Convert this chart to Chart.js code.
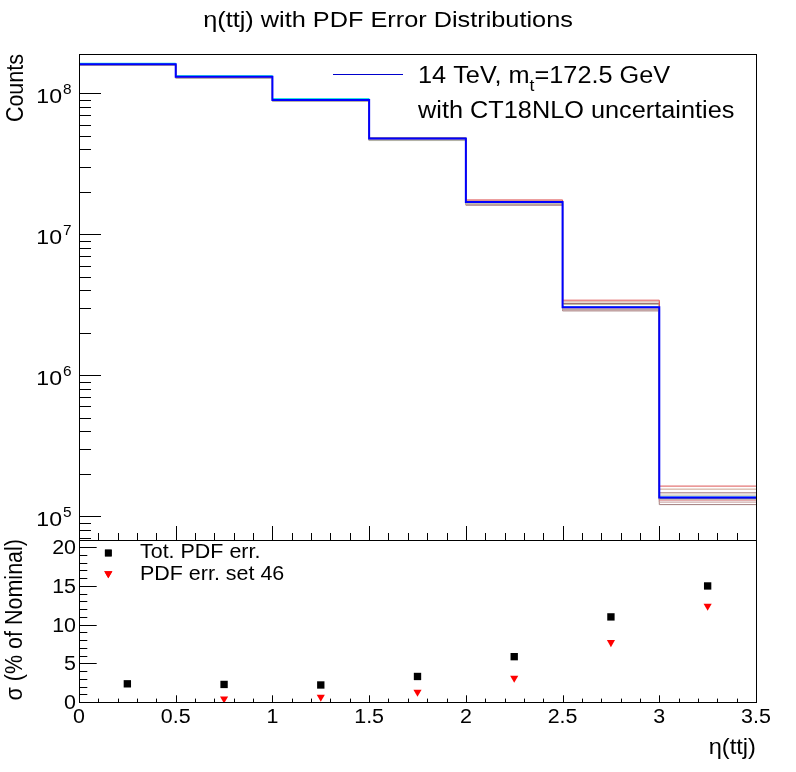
<!DOCTYPE html>
<html>
<head>
<meta charset="utf-8">
<title>eta(ttj) with PDF Error Distributions</title>
<script src="https://cdn.jsdelivr.net/npm/chart.js@4.4.1/dist/chart.umd.min.js"></script>
<style>
  html, body { margin: 0; padding: 0; background: #fff; }
  #wrap { position: relative; width: 796px; height: 772px; }
  #wrap canvas { position: absolute; left: 0; top: 0; }
</style>
</head>
<body>
<div id="wrap">
  <canvas id="histChart" width="796" height="772"></canvas>
  <canvas id="ratioChart" width="796" height="772"></canvas>
</div>
<script>
// ---- data ----
const binEdges = [0, 0.5, 1.0, 1.5, 2.0, 2.5, 3.0, 3.5];
const binCenters = [0.25, 0.75, 1.25, 1.75, 2.25, 2.75, 3.25];

// nominal eta(ttj) counts per bin
const nominalCounts = [1.606e8, 1.311e8, 8.97e7, 4.78e7, 1.692e7, 3.036e6, 1.353e5];

// a few of the PDF error set histograms (per bin)
const pdfSetRed    = [1.600e8, 1.305e8, 8.95e7, 4.82e7, 1.751e7, 3.404e6, 1.633e5];
const pdfSetTan    = [1.595e8, 1.300e8, 8.92e7, 4.79e7, 1.725e7, 3.311e6, 1.554e5];
const pdfSetMauve  = [1.592e8, 1.296e8, 8.90e7, 4.76e7, 1.705e7, 3.225e6, 1.463e5];
const pdfSetOlive  = [1.585e8, 1.288e8, 8.85e7, 4.66e7, 1.665e7, 3.173e6, 1.409e5];
const pdfSetCyan   = [1.633e8, 1.333e8, 9.16e7, 4.83e7, 1.700e7, 3.050e6, 1.365e5];
const pdfSetGray   = [1.576e8, 1.284e8, 8.82e7, 4.62e7, 1.645e7, 2.940e6, 1.320e5];
const pdfSetNavy   = [1.610e8, 1.314e8, 8.99e7, 4.77e7, 1.688e7, 3.020e6, 1.340e5];
const pdfSetPink   = [1.598e8, 1.302e8, 8.90e7, 4.74e7, 1.680e7, 2.950e6, 1.299e5];
const pdfSetRose   = [1.585e8, 1.288e8, 8.83e7, 4.64e7, 1.625e7, 2.900e6, 1.257e5];
const pdfSetBrown  = [1.580e8, 1.282e8, 8.80e7, 4.63e7, 1.606e7, 2.858e6, 1.207e5];
const pdfSets      = [pdfSetRed, pdfSetTan, pdfSetMauve, pdfSetOlive, pdfSetCyan,
                      pdfSetGray, pdfSetNavy, pdfSetPink, pdfSetRose, pdfSetBrown];
const pdfSetColors = ['#dd5555', '#c9a08c', '#9c7474', '#bdbda5', '#00dddd',
                      '#a8a8a8', '#101060', '#d47a7a', '#c49a9a', '#a07c7c'];

// relative uncertainty in % of nominal
const totPdfErr = [2.35, 2.27, 2.2, 3.3, 5.86, 11.0, 15.0];
const set46Err  = [-1.0, 0.42, 0.64, 1.28, 3.1, 7.7, 12.4];

const logExponents = [5, 6, 7, 8];
const ratioTicks = [0, 5, 10, 15, 20];
const xTickLabels = ['0', '0.5', '1', '1.5', '2', '2.5', '3', '3.5'];

// ---- helpers ----
const FONT = '"Liberation Sans", Arial, Helvetica, sans-serif';
const SX = 1.1; // ROOT text looks a bit wider than Arial

function txt(ctx, str, x, y, size, align, base, opts = {}) {
    ctx.save();
    ctx.translate(x, y);
    const sx = opts.sx || SX;
    if (opts.rot) { ctx.rotate(opts.rot); ctx.scale(1, sx); } else { ctx.scale(sx, 1); }
    ctx.font = size + 'px ' + FONT;
    ctx.textAlign = align;
    ctx.textBaseline = base;
    ctx.fillStyle = '#000';
    ctx.fillText(str, 0, 0);
    const w = ctx.measureText(str).width * (opts.rot ? 1 : sx);
    ctx.restore();
    return w;
}

function seg(ctx, x1, y1, x2, y2) {
    ctx.beginPath();
    ctx.moveTo(x1, y1);
    ctx.lineTo(x2, y2);
    ctx.stroke();
}

function stepPoints(vals) {
    return binEdges.map((x, i) => ({ x, y: vals[Math.min(i, vals.length - 1)] }));
}

function xTicks(ctx, x, yBase, dir, major, minor) {
    for (let i = 0; i <= 35; i++) {
        const px = Math.round(x.getPixelForValue(i / 10)) + 0.5;
        seg(ctx, px, yBase, px, yBase + dir * (i % 5 === 0 ? major : minor));
    }
}

// ---- top pad: histograms ----
const histAxes = {
    id: 'histAxes',
    afterDatasetsDraw(chart) {
        const { ctx, chartArea: a, scales: { x, y } } = chart;
        ctx.save();
        ctx.strokeStyle = '#000';
        ctx.lineWidth = 1;
        ctx.strokeRect(a.left + 0.5, a.top + 0.5, a.right - a.left, a.bottom - a.top);

        // log y ticks inside the frame
        for (let e = 4; e <= 8; e++) {
            for (let m = 1; m <= 9; m++) {
                const v = m * Math.pow(10, e);
                if (v < y.min || v > y.max) continue;
                const py = Math.round(y.getPixelForValue(v)) + 0.5;
                seg(ctx, a.left, py, a.left + (m === 1 ? 22 : 12), py);
            }
        }
        // x ticks on the bottom edge, no labels
        xTicks(ctx, x, a.bottom, -1, 14, 7);

        // 10^n labels
        logExponents.forEach(e => {
            const py = y.getPixelForValue(Math.pow(10, e));
            txt(ctx, '10', 62, py + 9.7, 21, 'right', 'alphabetic');
            txt(ctx, String(e), 63, py + 0.7, 14, 'left', 'alphabetic');
        });

        // titles
        txt(ctx, 'η(ttj) with PDF Error Distributions', 388, 27, 22, 'center', 'alphabetic', { sx: 1.15 });
        txt(ctx, 'Counts', 23, a.top, 21.5, 'right', 'alphabetic', { rot: -Math.PI / 2 });

        // legend
        ctx.strokeStyle = '#0000cc';
        ctx.lineWidth = 1;
        seg(ctx, 333, 74.5, 403, 74.5);
        let lx = 418;
        lx += txt(ctx, '14 TeV, m', lx, 83, 23, 'left', 'alphabetic');
        const sw = txt(ctx, 't', lx, 91, 16, 'left', 'alphabetic');
        lx += sw;
        txt(ctx, '=172.5 GeV', lx, 83, 23, 'left', 'alphabetic');
        txt(ctx, 'with CT18NLO uncertainties', 418, 118, 23, 'left', 'alphabetic');
        ctx.restore();
    }
};

const histDatasets = [{
    label: '14 TeV, m_t=172.5 GeV',
    data: stepPoints(nominalCounts),
    borderColor: '#0000ff',
    borderWidth: 2
}].concat(pdfSets.map((s, i) => ({
    label: 'PDF set ' + (i + 1),
    data: stepPoints(s),
    borderColor: pdfSetColors[i],
    borderWidth: 1
})));

new Chart(document.getElementById('histChart'), {
    type: 'line',
    data: { datasets: histDatasets },
    options: {
        responsive: false,
        animation: false,
        layout: { padding: { left: 79, top: 54, right: 40, bottom: 232 }, autoPadding: false },
        elements: { point: { radius: 0 }, line: { stepped: true, tension: 0, fill: false } },
        plugins: { legend: { display: false }, tooltip: { enabled: false }, title: { display: false } },
        scales: {
            x: { type: 'linear', min: 0, max: 3.5, display: false },
            y: { type: 'logarithmic', min: 6.77e4, max: 1.90e8, display: false }
        }
    },
    plugins: [histAxes]
});

// ---- bottom pad: relative errors ----
const ratioAxes = {
    id: 'ratioAxes',
    afterDatasetsDraw(chart) {
        const { ctx, chartArea: a, scales: { x, y } } = chart;
        ctx.save();
        ctx.strokeStyle = '#000';
        ctx.lineWidth = 1;
        ctx.strokeRect(a.left + 0.5, a.top + 0.5, a.right - a.left, a.bottom - a.top);

        for (let v = 0; v <= 20; v++) {
            const py = Math.round(y.getPixelForValue(v)) + 0.5;
            seg(ctx, a.left, py, a.left + (v % 5 === 0 ? 17.7 : 8.3), py);
        }
        xTicks(ctx, x, a.bottom, -1, 6.7, 3.4);

        ratioTicks.forEach(v => {
            txt(ctx, String(v), 76, y.getPixelForValue(v) + 7, 19.5, 'right', 'alphabetic');
        });
        xTickLabels.forEach((s, i) => {
            txt(ctx, s, x.getPixelForValue(i * 0.5), 723, 19.5, 'center', 'alphabetic');
        });

        txt(ctx, 'η(ttj)', a.right, 754, 21.5, 'right', 'alphabetic');
        txt(ctx, 'σ (% of Nominal)', 22, a.top - 1, 21.5, 'right', 'alphabetic', { rot: -Math.PI / 2, sx: 1.12 });

        // legend
        Chart.helpers.drawPoint(ctx, { pointStyle: 'rect', radius: 4.8, rotation: 0, borderWidth: 0 }, 108.3, 553);
        ctx.fillStyle = '#000';
        ctx.fill();
        txt(ctx, 'Tot. PDF err.', 140, 557.5, 19.5, 'left', 'alphabetic');
        ctx.fillStyle = '#ff0000';
        ctx.strokeStyle = '#ff0000';
        Chart.helpers.drawPoint(ctx, { pointStyle: 'triangle', radius: 4.7, rotation: 180, borderWidth: 0 }, 108.3, 573.6);
        ctx.fill();
        txt(ctx, 'PDF err. set 46', 140, 579.7, 19.5, 'left', 'alphabetic');
        ctx.restore();
    }
};

new Chart(document.getElementById('ratioChart'), {
    type: 'scatter',
    data: {
        datasets: [{
            label: 'Tot. PDF err.',
            data: binCenters.map((x, i) => ({ x, y: totPdfErr[i] })),
            pointStyle: 'rect',
            pointRadius: 5.2,
            backgroundColor: '#000',
            borderWidth: 0
        }, {
            label: 'PDF err. set 46',
            data: binCenters.map((x, i) => ({ x, y: set46Err[i] })),
            pointStyle: 'triangle',
            pointRotation: 180,
            pointRadius: 4.7,
            backgroundColor: '#ff0000',
            borderWidth: 0
        }]
    },
    options: {
        responsive: false,
        animation: false,
        layout: { padding: { left: 79, top: 540, right: 40, bottom: 70 }, autoPadding: false },
        plugins: { legend: { display: false }, tooltip: { enabled: false } },
        scales: {
            x: { type: 'linear', min: 0, max: 3.5, display: false },
            y: { type: 'linear', min: 0, max: 20.94, display: false }
        }
    },
    plugins: [ratioAxes]
});
</script>
</body>
</html>
